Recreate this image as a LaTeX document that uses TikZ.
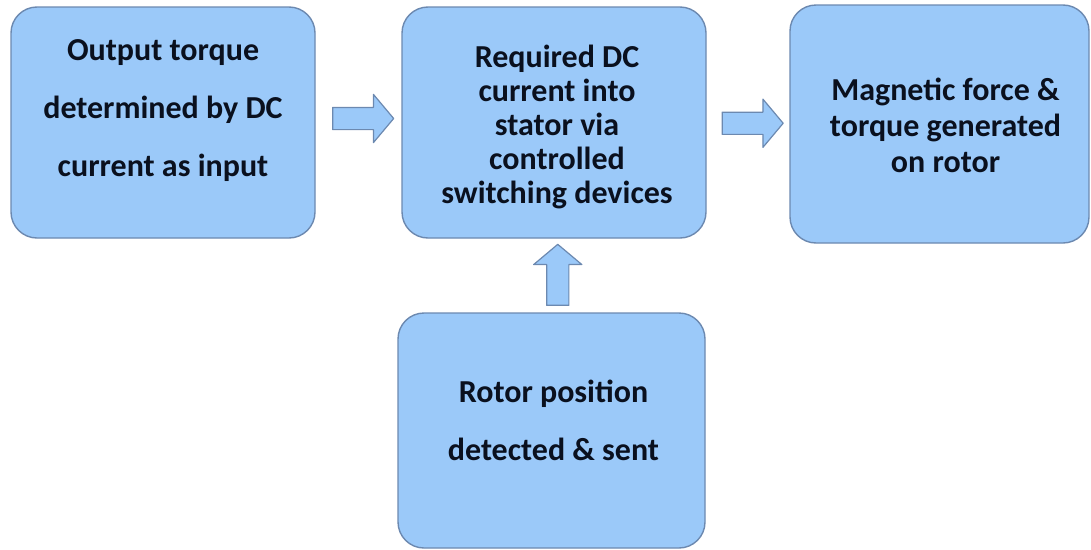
\documentclass[tikz,border=0pt]{standalone}
\usepackage{fontspec}
\setmainfont{Carlito}
\usetikzlibrary{shapes.arrows,calc}
\definecolor{boxfill}{RGB}{155,201,249}
\definecolor{boxline}{RGB}{108,137,176}
\definecolor{boxtext}{RGB}{10,16,30}
\tikzset{
  blockbox/.style={draw=boxline, fill=boxfill, line width=1.4pt, rounded corners=26pt, inner sep=0pt},
  blocktext/.style={text=boxtext, align=center, font=\bfseries\fontsize{32}{#1}\selectfont},
  blockarrow/.style={single arrow, draw=boxline, fill=boxfill, line width=1.2pt, inner sep=10.5pt,
    minimum height=61pt, single arrow head extend=13pt, single arrow tip angle=100, single arrow head indent=0pt}
}
\begin{document}
\begin{tikzpicture}[x=1pt, y=-1pt, line join=round]
\useasboundingbox (0,0) rectangle (1091,549);
% the four boxes
\node[blockbox, minimum width=304pt, minimum height=231pt] (b1) at (163,122.5) {};
\node[blockbox, minimum width=304pt, minimum height=231pt] (b2) at (554,122.5) {};
\node[blockbox, minimum width=299pt, minimum height=238pt] (b3) at (939.5,124) {};
\node[blockbox, minimum width=307pt, minimum height=235pt] (b4) at (551.5,430.5) {};
% texts
\node[blocktext=58] (t1) at ($(b1.center)+(0,-12)$) {Output torque\\determined by DC\\current as input};
\node[blocktext=34] (t2) at ($(b2.center)+(3,4)$) {Required DC\\current into\\stator via\\controlled\\switching devices};
\node[blocktext=36] (t3) at ($(b3.center)+(6,1)$) {Magnetic force \&\\torque generated\\on rotor};
\node[blocktext=58] (t4) at ($(b4.center)+(2,-10)$) {Rotor position\\detected \& sent};
% block arrows
\node[blockarrow] (a1) at ($(b1.east)!0.5!(b2.west)+(0,-4)$) {};
\node[blockarrow] (a2) at ($(b2.east)!0.5!(b3.west)$) {};
\node[blockarrow, shape border rotate=90] (a3) at ($(b4.north)!0.5!(b2.south)+(5,4)$) {};
\end{tikzpicture}
\end{document}
